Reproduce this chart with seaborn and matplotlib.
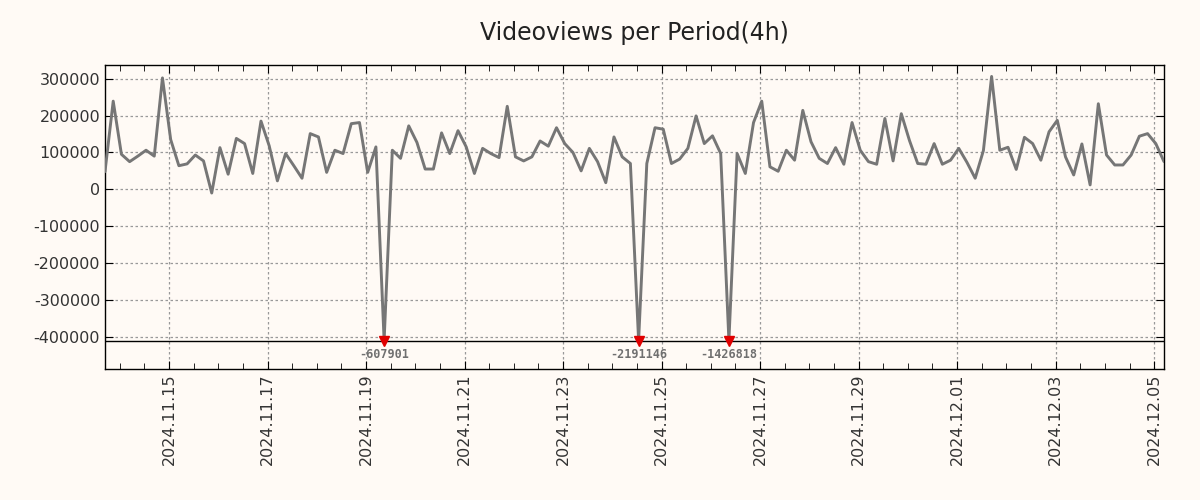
import numpy as np
import pandas as pd
import matplotlib
matplotlib.use("Agg")
import matplotlib.pyplot as plt
import matplotlib.dates as mdates
import seaborn as sns

# ---- data ----
start_time = "2024-11-13 16:48"
period = "4h"
views = [
    48000, 239000, 95000, 75000, 90000, 106000, 90000, 302000, 135000, 64000,
    69000, 93000, 77000, -10000, 113000, 41000, 138000, 124000, 43000, 185000,
    118000, 23000, 97000, 64000, 30000, 151000, 142000, 46000, 106000, 97000,
    178000, 181000, 46000, 115000, -607901, 106000, 84000, 172000, 127000, 55000,
    55000, 153000, 97000, 159000, 115000, 43000, 111000, 97000, 86000, 225000,
    88000, 77000, 88000, 131000, 117000, 167000, 124000, 100000, 50000, 111000,
    75000, 18000, 142000, 88000, 70000, -2191146, 70000, 167000, 163000, 70000,
    82000, 111000, 199000, 124000, 145000, 97000, -1426818, 97000, 43000, 181000,
    239000, 61000, 49000, 106000, 79000, 214000, 129000, 84000, 70000, 113000,
    68000, 181000, 106000, 75000, 68000, 192000, 77000, 205000, 132000, 70000,
    68000, 124000, 68000, 79000, 111000, 73000, 30000, 105000, 306000, 106000,
    114000, 54000, 141000, 124000, 79000, 156000, 187000, 88000, 39000, 123000,
    12000, 232000, 93000, 66000, 66000, 93000, 144000, 151000, 124000, 75000,
]
clip_level = -410000
title = "Videoviews per Period(4h)"

times = pd.date_range(start_time, periods=len(views), freq=period)
df = pd.DataFrame({"time": times, "views": views})
df["shown"] = df["views"].clip(lower=clip_level)
outliers = df[df["views"] < clip_level]

# ---- style ----
bg = "#fffaf5"
sns.set_style("ticks")
plt.rcParams["font.family"] = ["DejaVu Sans"]

fig = plt.figure(figsize=(12, 5), dpi=100, facecolor=bg)
ax = fig.add_axes([0.0875, 0.262, 0.8825, 0.608])
ax.set_facecolor(bg)

sns.lineplot(data=df, x="time", y="shown", ax=ax, color="#767676",
             linewidth=2.1, zorder=3)

ax.axhline(clip_level, color="black", linewidth=1.0, zorder=2)
ax.plot(outliers["time"], [clip_level] * len(outliers), linestyle="none",
        marker="v", color="#e00000", markersize=7, zorder=4)
for t, v in zip(outliers["time"], outliers["views"]):
    ax.annotate(f"{v}", xy=(t, clip_level), xytext=(0, -10),
                textcoords="offset points", ha="center", va="center",
                fontsize=8.5, family="DejaVu Sans Mono", fontweight="bold",
                color="#707070")

ax.set_xlim(times[0], times[-1])
ax.set_ylim(-487000, 337000)
ax.set_yticks(np.arange(-400000, 300001, 100000))
ax.yaxis.set_major_formatter(matplotlib.ticker.FuncFormatter(lambda v, p: f"{int(v)}"))

ax.xaxis.set_major_locator(mdates.DayLocator(bymonthday=range(1, 32, 2)))
ax.xaxis.set_minor_locator(mdates.HourLocator(byhour=[0, 12]))
ax.xaxis.set_major_formatter(mdates.DateFormatter("%Y.%m.%d"))
for lbl in ax.get_xticklabels():
    lbl.set_rotation(90)

ax.tick_params(axis="both", which="both", direction="in", top=True, right=True,
               labelsize=11.5, labelcolor="#333333", color="black")
ax.tick_params(axis="both", which="major", length=6)
ax.tick_params(axis="both", which="minor", length=4)
ax.grid(True, which="major", linestyle=(0, (2, 2)), color="#999999", linewidth=0.9)
for s in ax.spines.values():
    s.set_color("black")
    s.set_linewidth(1.0)

ax.set_xlabel("")
ax.set_ylabel("")
ax.set_title(title, fontsize=17, color="#222222", pad=18)

fig.savefig("out.png", dpi=100, facecolor=bg)
